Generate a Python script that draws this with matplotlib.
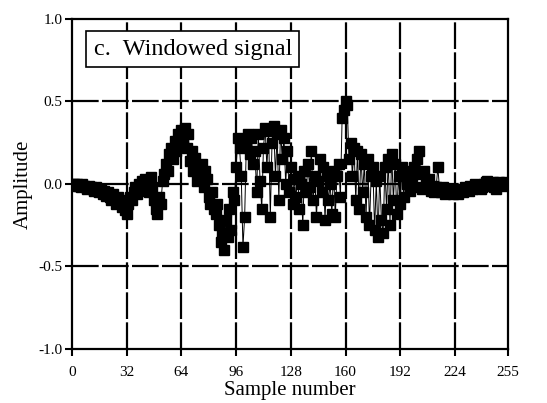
import numpy as np
import matplotlib
matplotlib.use("Agg")
import matplotlib.pyplot as plt

plt.rcParams["font.family"] = ["Liberation Serif", "DejaVu Serif"]

# windowed signal, 256 samples
signal = [
    0.00, 0.00, -0.01, 0.00, -0.01, -0.02, 0.00, -0.01, -0.02, -0.03, -0.01, -0.02, -0.03, -0.04, -0.02, -0.04,
    -0.05, -0.03, -0.06, -0.04, -0.07, -0.05, -0.08, -0.10, -0.06, -0.09, -0.12, -0.08, -0.11, -0.14, -0.10, -0.16,
    -0.18, -0.12, -0.08, -0.10, -0.05, -0.02, -0.06, 0.00, -0.03, 0.02, -0.04, 0.03, 0.00, -0.05, 0.04, -0.02,
    -0.10, -0.15, -0.18, -0.08, -0.12, 0.02, 0.06, 0.12, 0.08, 0.18, 0.22, 0.15, 0.26, 0.20, 0.30, 0.24,
    0.33, 0.28, 0.34, 0.22, 0.30, 0.14, 0.20, 0.08, 0.16, 0.02, 0.10, 0.05, 0.12, -0.02, 0.08, 0.03,
    -0.08, -0.12, -0.05, -0.15, -0.18, -0.12, -0.25, -0.35, -0.30, -0.40, -0.22, -0.32, -0.15, -0.28, -0.05, -0.10,
    0.10, 0.28, 0.22, 0.05, -0.38, -0.20, 0.25, 0.30, 0.18, 0.28, 0.12, 0.20, -0.05, 0.30, 0.02, -0.15,
    0.22, 0.34, 0.10, 0.32, -0.20, 0.25, 0.35, 0.05, 0.30, -0.10, 0.33, 0.15, 0.28, 0.00, 0.20, -0.05,
    0.10, -0.12, 0.03, -0.08, 0.05, -0.15, 0.00, -0.25, 0.08, -0.05, 0.12, -0.02, 0.20, -0.10, 0.05, -0.20,
    0.02, 0.15, -0.05, 0.10, -0.22, 0.05, -0.10, 0.00, -0.18, 0.08, -0.20, 0.05, 0.12, -0.08, 0.40, 0.45,
    0.50, 0.48, 0.15, 0.25, 0.05, 0.22, -0.10, 0.20, -0.15, 0.18, -0.05, 0.12, -0.20, 0.15, -0.25, 0.05,
    0.10, -0.28, 0.02, -0.32, 0.05, -0.22, -0.30, 0.10, -0.15, 0.15, -0.25, 0.18, -0.10, 0.12, -0.18, 0.05,
    -0.12, 0.10, -0.08, 0.06, 0.00, 0.08, -0.04, 0.05, 0.10, -0.02, 0.15, 0.20, 0.06, -0.03, 0.08, 0.00,
    -0.02, 0.03, -0.04, -0.01, -0.05, -0.02, 0.10, -0.03, -0.05, -0.02, -0.06, -0.03, -0.04, -0.05, -0.03, -0.06,
    -0.05, -0.04, -0.06, -0.03, -0.04, -0.05, -0.02, -0.03, -0.04, -0.01, -0.03, -0.02, 0.00, -0.02, -0.01, -0.03,
    -0.02, 0.00, 0.01, 0.02, -0.01, 0.00, 0.01, -0.02, -0.03, 0.00, 0.01, 0.00, -0.01, 0.00, 0.01, 0.00,
]
x_ticks = [0, 32, 64, 96, 128, 160, 192, 224, 255]
y_ticks = [-1.0, -0.5, 0.0, 0.5, 1.0]

n = np.arange(len(signal))

fig = plt.figure(figsize=(5.47, 4.03), dpi=100)
ax = fig.add_axes([0.1316, 0.134, 0.797, 0.819])

for xt in x_ticks[1:-1]:
    ax.axvline(xt, color="black", lw=1.6, dashes=(12, 1.5), zorder=1)
for yt in y_ticks[1:-1]:
    ax.axhline(yt, color="black", lw=1.6, dashes=(12, 1.5), zorder=1)

ax.plot(n, signal, color="black", lw=0.7, marker="s", markersize=6.5, zorder=3)

ax.set_xlim(0, 255)
ax.set_ylim(-1, 1)
ax.set_xticks(x_ticks)
ax.set_yticks(y_ticks)
ax.set_yticklabels(["-1.0", "-0.5", "0.0", "0.5", "1.0"])
ax.tick_params(direction="out", length=5, width=1.5, labelsize=11)
ax.tick_params(axis="x", pad=7)
ax.tick_params(axis="y", pad=2)
for s in ax.spines.values():
    s.set_linewidth(1.6)

ax.set_xlabel("Sample number", fontsize=15, labelpad=2)
ax.set_ylabel("Amplitude", fontsize=15, labelpad=4)

ax.text(0.05, 0.94, "c.  Windowed signal", transform=ax.transAxes, fontsize=17.5,
        va="top", ha="left",
        bbox=dict(boxstyle="square,pad=0.3", facecolor="white", edgecolor="black", lw=1.2),
        zorder=5)

fig.savefig("out.png", dpi=100)
